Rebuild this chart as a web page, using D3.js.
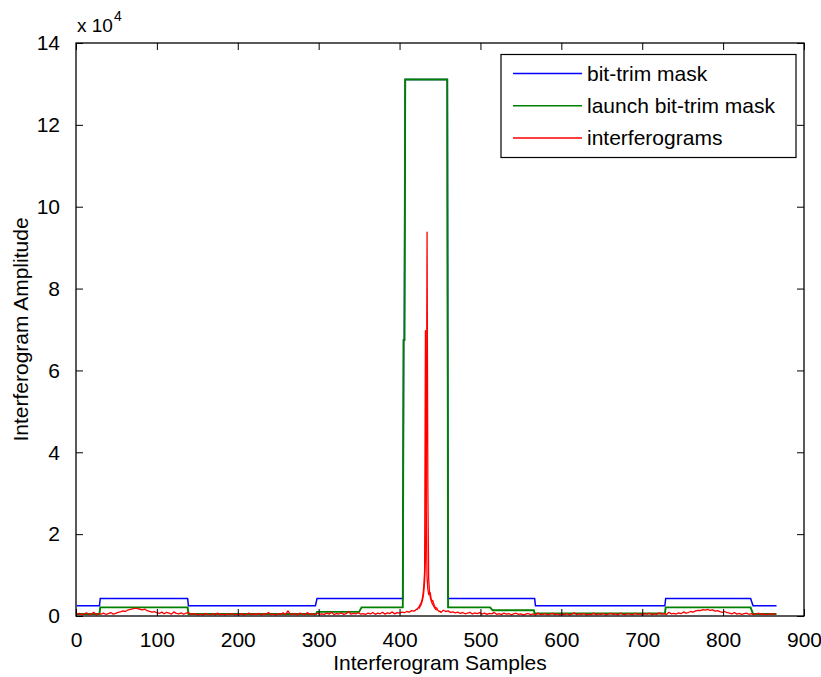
<!DOCTYPE html>
<html>
<head>
<meta charset="utf-8">
<script src="https://cdn.jsdelivr.net/npm/d3@7"></script>
<style>
  html, body { margin: 0; padding: 0; background: #fff; }
  svg { display: block; font-family: "Liberation Sans", Arial, sans-serif; }
</style>
</head>
<body>
<svg id="chart" width="821" height="677"></svg>
<script>
// Axis ticks
const xTicks = [0, 100, 200, 300, 400, 500, 600, 700, 800, 900];
const yTicks = [0, 20000, 40000, 60000, 80000, 100000, 120000, 140000];
const yTickLabels = ["0", "2", "4", "6", "8", "10", "12", "14"];

// Bit-trim mask: vertices (sample index, amplitude limit)
const bitTrimSamples = [1, 29, 30, 138, 139, 296, 298, 404, 405, 406, 407, 459, 460, 567, 568, 728, 729, 834, 837, 866];
const bitTrimValues  = [2500, 2500, 4300, 4300, 2500, 2500, 4300, 4300, 67400, 67400, 131072, 131072, 4300, 4300, 2500, 2500, 4300, 4300, 2500, 2500];

// Launch bit-trim mask
const launchSamples = [1, 29, 30, 138, 139, 297, 298, 350, 353, 404, 405, 406, 407, 459, 460, 512, 515, 566, 567, 728, 729, 834, 837, 866];
const launchValues  = [500, 500, 2100, 2100, 500, 500, 1000, 1000, 2100, 2100, 67400, 67400, 131072, 131072, 2100, 2100, 1400, 1400, 600, 600, 2100, 2100, 500, 500];

// Interferogram wings, every 3rd sample
const wingStep = 3;
const leftWingStart = 1;     // samples 1 .. 418
const leftWing = [
  400, 650, 300, 520, 780, 350, 460, 900, 280, 610, 430, 720, 380, 560, 840, 470, 620, 900,
  1000, 1250, 1100, 1450, 1600, 1750, 1900, 1800, 1650, 1500, 1700, 1300, 1150, 950, 1050,
  800, 620, 950, 540, 880, 700, 460, 1000, 650, 530, 780, 420, 690, 850, 380, 600, 520,
  300, 480, 250, 620, 410, 350, 560, 280, 700, 330, 450, 260, 520, 390, 610, 300, 440,
  350, 580, 270, 460, 720, 310, 500, 380, 640, 290, 530, 410, 860, 340, 470, 250, 600,
  420, 760, 330, 1250, 480, 380, 620, 290, 700, 450, 350, 820, 400, 560, 300, 680, 440,
  520, 380, 700, 460, 900, 340, 610, 480, 760, 390, 560, 1100, 430, 650, 520, 800, 470,
  600, 380, 720, 500, 850, 420, 680, 540, 900, 460, 750, 610, 1000, 520, 820, 700, 950,
  800, 1100, 950, 1300, 1200
];
const rightWingStart = 454;  // samples 454 .. 865
const rightWing = [
  1400, 1100, 1250, 900, 1000, 780, 950, 620, 850, 540, 700, 900, 480, 760, 600, 820,
  450, 700, 380, 620, 530, 880, 400, 560, 340, 720, 460, 600, 300, 520, 680, 380, 540,
  280, 450, 620, 330, 500, 260, 700, 380, 420, 560, 300, 480, 650, 350, 520, 290, 440,
  360, 580, 250, 470, 800, 320, 510, 400, 620, 280, 460, 350, 700, 310, 540, 420, 600,
  300, 480, 650, 380, 520, 270, 740, 410, 350, 580, 460, 300, 620, 390, 500, 280, 560,
  430, 680, 350, 520, 400, 760, 460, 600, 380, 900, 520, 640, 480, 780, 560, 1000, 700,
  850, 1100, 950, 1250, 1400, 1300, 1550, 1450, 1600, 1350, 1500, 1200, 1300, 1050, 900, 1100, 800,
  700, 520, 850, 460, 640, 380, 560, 720, 420, 600, 350, 500, 680, 410, 550, 320, 480, 600, 380, 520
];

// Zero-path-difference region, every sample
const coreAStart = 419;      // samples 419 .. 453
const coreA = [
  1300, 1500, 1700, 1600, 2000, 2200, 2600, 3000, 3400, 4200, 5200, 7500, 11000, 69700, 26000,
  9500, 6500, 5200, 5800, 5600, 4300, 3600, 3800, 3100, 2600, 2200, 1900, 2000, 1500, 1300,
  1100, 1200, 900, 1000, 1200
];
const coreBStart = 424;      // samples 424 .. 446
const coreB = [
  1800, 2200, 2500, 3000, 3600, 4500, 6000, 8500, 14000, 31000, 93800, 31000, 9000, 6000,
  4500, 3800, 3200, 2800, 2500, 2100, 1800, 1600, 1400
];

const legendLabels = ["bit-trim mask", "launch bit-trim mask", "interferograms"];
const colors = { blue: "#0000ff", green: "#008000", red: "#ff0000" };

// ---- layout
const svg = d3.select("#chart");
const plot = { left: 76, right: 804, top: 43, bottom: 616 };
const x = d3.scaleLinear().domain([0, 900]).range([plot.left, plot.right]);
const y = d3.scaleLinear().domain([0, 140000]).range([plot.bottom, plot.top]);
const fontSize = 21;

svg.append("defs").append("clipPath").attr("id", "plotClip")
  .append("rect")
  .attr("x", plot.left).attr("y", plot.top)
  .attr("width", plot.right - plot.left).attr("height", plot.bottom - plot.top);

const zip = (xs, ys) => xs.map((s, i) => [s, ys[i]]);
const wing = (start, vals) => vals.map((v, i) => [start + i * wingStep, v]);

const bitTrim = zip(bitTrimSamples, bitTrimValues);
const launch = zip(launchSamples, launchValues);
const ifgA = [].concat(wing(leftWingStart, leftWing), coreA.map((v, i) => [coreAStart + i, v]), wing(rightWingStart, rightWing));
const ifgB = coreB.map((v, i) => [coreBStart + i, v]);

const line = d3.line().x(d => x(d[0])).y(d => y(d[1]));

const g = svg.append("g").attr("clip-path", "url(#plotClip)");
g.append("path").datum(bitTrim).attr("d", line)
  .attr("fill", "none").attr("stroke", colors.blue).attr("stroke-width", 1.5);
g.append("path").datum(launch).attr("d", line)
  .attr("fill", "none").attr("stroke", colors.green).attr("stroke-width", 1.9);
[ifgA, ifgB].forEach(series => {
  g.append("path").datum(series).attr("d", line)
    .attr("fill", "none").attr("stroke", colors.red).attr("stroke-width", 1.3)
    .attr("stroke-linejoin", "round");
});

// ---- axes (inward ticks on all four sides)
const tickLen = 7;
const axisStyle = sel => {
  sel.select(".domain").remove();
  sel.selectAll("line").attr("stroke", "#000").attr("stroke-width", 1);
  sel.selectAll("text").attr("font-size", fontSize).attr("fill", "#000")
    .attr("font-family", "\"Liberation Sans\", Arial, sans-serif");
};

svg.append("g").attr("transform", `translate(0,${plot.bottom})`)
  .call(d3.axisBottom(x).tickValues(xTicks).tickSizeInner(-tickLen).tickSizeOuter(0).tickPadding(tickLen + 9).tickFormat(d3.format("d")))
  .call(axisStyle);
svg.append("g").attr("transform", `translate(0,${plot.top})`)
  .call(d3.axisTop(x).tickValues(xTicks).tickSizeInner(-tickLen).tickSizeOuter(0).tickFormat(""))
  .call(axisStyle);
svg.append("g").attr("transform", `translate(${plot.left},0)`)
  .call(d3.axisLeft(y).tickValues(yTicks).tickSizeInner(-tickLen).tickSizeOuter(0).tickPadding(tickLen + 9)
    .tickFormat((d, i) => yTickLabels[i]))
  .call(axisStyle);
svg.append("g").attr("transform", `translate(${plot.right},0)`)
  .call(d3.axisRight(y).tickValues(yTicks).tickSizeInner(-tickLen).tickSizeOuter(0).tickFormat(""))
  .call(axisStyle);

svg.append("rect")
  .attr("x", plot.left).attr("y", plot.top)
  .attr("width", plot.right - plot.left).attr("height", plot.bottom - plot.top)
  .attr("fill", "none").attr("stroke", "#000").attr("stroke-width", 1.3);

// exponent
const expo = svg.append("text").attr("x", 77).attr("y", 31.5).attr("font-size", fontSize - 2).attr("fill", "#000");
expo.append("tspan").text("x 10");
expo.append("tspan").attr("font-size", 14).attr("dy", -11).attr("dx", 1).text("4");

// axis titles
svg.append("text")
  .attr("x", (plot.left + plot.right) / 2).attr("y", 670)
  .attr("text-anchor", "middle").attr("font-size", fontSize).attr("fill", "#000")
  .text("Interferogram Samples");
svg.append("text")
  .attr("transform", `translate(28,${(plot.top + plot.bottom) / 2}) rotate(-90)`)
  .attr("text-anchor", "middle").attr("font-size", fontSize).attr("fill", "#000")
  .text("Interferogram Amplitude");

// ---- legend
const legend = svg.append("g");
legend.append("rect")
  .attr("x", 501).attr("y", 54.5).attr("width", 295).attr("height", 103)
  .attr("fill", "#fff").attr("stroke", "#000").attr("stroke-width", 1.2);
const legendColors = [colors.blue, colors.green, colors.red];
legendLabels.forEach((lab, i) => {
  const ly = 73.5 + i * 32.2;
  legend.append("line").attr("x1", 513).attr("x2", 582).attr("y1", ly).attr("y2", ly)
    .attr("stroke", legendColors[i]).attr("stroke-width", 1.5);
  legend.append("text").attr("x", 587).attr("y", ly + 7.5)
    .attr("font-size", fontSize).attr("fill", "#000").text(lab);
});
</script>
</body>
</html>
